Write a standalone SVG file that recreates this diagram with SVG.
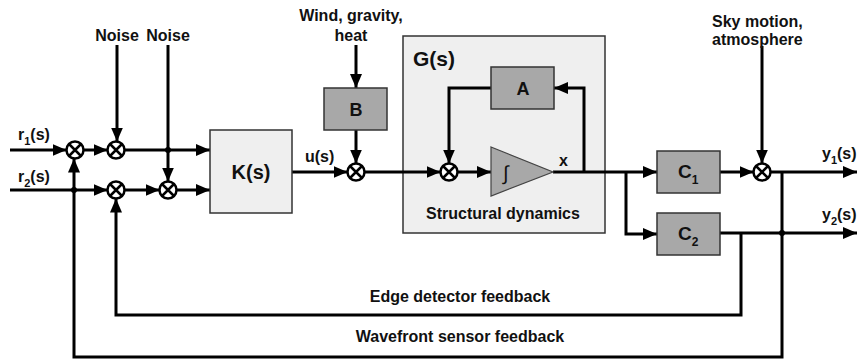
<svg xmlns="http://www.w3.org/2000/svg" width="857" height="360" viewBox="0 0 857 360">
<style>
text{font-family:"Liberation Sans",Arial,sans-serif;font-weight:bold;fill:#111}
.lbl{font-size:16px}
.arr{fill:none;stroke:#000;stroke-width:3;marker-end:url(#ah)}
.light{fill:#efefef;stroke:#333;stroke-width:1.5}
.dark{fill:#a8a8a8;stroke:#333;stroke-width:1.5}
</style>
<defs>
<marker id="ah" markerUnits="userSpaceOnUse" markerWidth="14" markerHeight="12" refX="14" refY="6" orient="auto">
<path d="M0,0 L14,6 L0,12 Z" fill="#000"/>
</marker>
<g id="sj"><circle r="8.5" fill="#fff" stroke="#000" stroke-width="2.5"/><path d="M-6,-6 L6,6 M-6,6 L6,-6" stroke="#000" stroke-width="2.5" fill="none"/></g>
</defs>

<g id="G">
<rect class="light" x="403" y="36" width="202" height="197"/>
<text x="413" y="66" font-size="21">G(s)</text>
<text class="lbl" x="503" y="219" text-anchor="middle">Structural dynamics</text>
</g>

<g id="connectors">
<path class="arr" d="M10,150 H66.5"/>
<path class="arr" d="M84,150 H107.5"/>
<path class="arr" d="M125,150 H210"/>
<path class="arr" d="M117,45 V141.5"/>
<path class="arr" d="M168,45 V181.5"/>
<path class="arr" d="M10,190 H107.5"/>
<path class="arr" d="M125,190 H159.5"/>
<path class="arr" d="M177,190 H210"/>
<path class="arr" d="M292,172 H347.5"/>
<path class="arr" d="M356,130 V163.5"/>
<path class="arr" d="M356,45 V88"/>
<path class="arr" d="M365,172 H440.5"/>
<path class="arr" d="M458,172 H491"/>
<path class="arr" d="M553,172 H657"/>
<path class="arr" d="M584,172 V88 H554"/>
<path class="arr" d="M491,88 H449 V163.5"/>
<path class="arr" d="M626,172 V234 H657"/>
<path class="arr" d="M720,172 H753.5"/>
<path class="arr" d="M762,46 V163.5"/>
<path class="arr" d="M771,172 H857"/>
<path class="arr" d="M720,233 H857"/>
<path class="arr" d="M782,172 V357 H74 V158.5"/>
<path class="arr" d="M741,233 V315 H116 V198.5"/>
<circle cx="168" cy="150" r="3" fill="#000"/>
<circle cx="74" cy="190" r="3" fill="#000"/>
<circle cx="782" cy="233" r="3" fill="#000"/>
</g>

<g id="S1"><use href="#sj" x="75" y="150"/></g>
<g id="S2"><use href="#sj" x="116" y="150"/></g>
<g id="S3"><use href="#sj" x="116" y="190"/></g>
<g id="S4"><use href="#sj" x="168" y="190"/></g>
<g id="S5"><use href="#sj" x="356" y="172"/></g>
<g id="S6"><use href="#sj" x="449" y="172"/></g>
<g id="S7"><use href="#sj" x="762" y="172"/></g>

<g id="K">
<rect class="light" x="210" y="130" width="82" height="83"/>
<text x="251" y="179" font-size="20" text-anchor="middle">K(s)</text>
</g>
<g id="B">
<rect class="dark" x="324" y="88" width="63" height="42"/>
<text x="356" y="116" font-size="18" text-anchor="middle">B</text>
</g>
<g id="A">
<rect class="dark" x="491" y="67" width="63" height="42"/>
<text x="523" y="95" font-size="18" text-anchor="middle">A</text>
</g>
<g id="integrator">
<path d="M491,147 L553,172 L491,196 Z" fill="#a8a8a8" stroke="#444" stroke-width="1.2"/>
<text x="503" y="180" font-size="20" style="font-weight:normal">∫</text>
</g>
<g id="C1">
<rect class="dark" x="657" y="151" width="63" height="42"/>
<text x="678" y="178" font-size="19">C<tspan font-size="12" dy="6">1</tspan></text>
</g>
<g id="C2">
<rect class="dark" x="657" y="213" width="63" height="42"/>
<text x="678" y="240" font-size="19">C<tspan font-size="12" dy="6">2</tspan></text>
</g>

<g id="labels">
<text class="lbl" x="117" y="41" text-anchor="middle">Noise</text>
<text class="lbl" x="168" y="41" text-anchor="middle">Noise</text>
<text class="lbl" x="351" y="21" text-anchor="middle">Wind, gravity,</text>
<text class="lbl" x="351" y="41" text-anchor="middle">heat</text>
<text class="lbl" x="712" y="27">Sky motion,</text>
<text class="lbl" x="712" y="45">atmosphere</text>
<text class="lbl" x="18" y="140">r<tspan font-size="11" dy="5">1</tspan><tspan dy="-5">(s)</tspan></text>
<text class="lbl" x="18" y="182">r<tspan font-size="11" dy="5">2</tspan><tspan dy="-5">(s)</tspan></text>
<text class="lbl" x="305" y="162">u(s)</text>
<text class="lbl" x="559" y="166">x</text>
<text class="lbl" x="822" y="159">y<tspan font-size="11" dy="5">1</tspan><tspan dy="-5">(s)</tspan></text>
<text class="lbl" x="822" y="220">y<tspan font-size="11" dy="5">2</tspan><tspan dy="-5">(s)</tspan></text>
<text class="lbl" x="460" y="302" text-anchor="middle">Edge detector feedback</text>
<text class="lbl" x="460" y="342" text-anchor="middle">Wavefront sensor feedback</text>
</g>
</svg>
